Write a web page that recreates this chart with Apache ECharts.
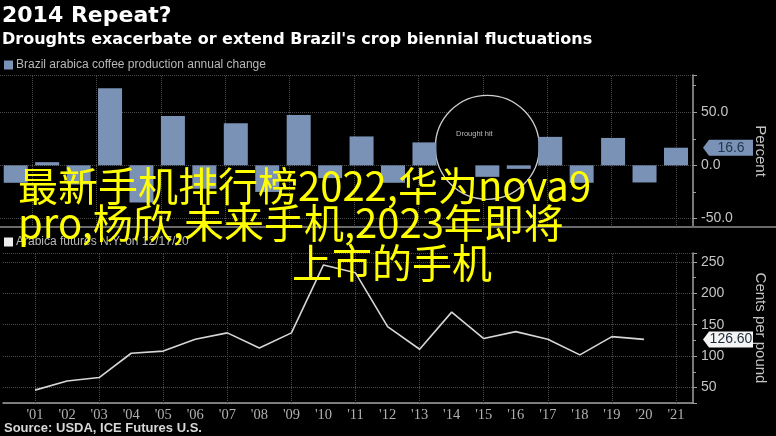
<!DOCTYPE html>
<html><head><meta charset="utf-8">
<script src="https://cdn.jsdelivr.net/npm/echarts@6/dist/echarts.min.js"></script>
<style>html,body{margin:0;padding:0;background:#000}#c{width:776px;height:436px}</style>
</head><body><div id="c"></div>
<script>
// ---- data ----
const barYears = ['2000','2001','2002','2003','2004','2005','2006','2007','2008','2009','2010',
  '2011','2012','2013','2014','2015','2016','2017','2018','2019','2020','2021'];
const barChanges = [-16.4, 3, -18, 72.5, -35, 46.5, -22, 39.7, -25, 47.4, -12,
  27.2, -16.4, 21.6, 0, -10.8, -3.3, 26.8, -16.4, 25.8, -16.1, 16.6];
const priceYears = [2001,2002,2003,2004,2005,2006,2007,2008,2009,2010,
  2011,2012,2013,2014,2015,2016,2017,2018,2019,2020];
const prices = [46, 60.6, 66, 104.6, 108, 127, 137, 113, 137, 245,
  232.5, 147, 111, 170, 128, 139, 127, 102, 131, 126.6];
const gridYears = [2001,2003,2005,2007,2009,2011,2013,2015,2017,2019,2021];
const xMin = 2000, xMax = 2021.53;
const pctMin = -58, pctMax = 85;
const centsMin = 25.5, centsMax = 264;
const droughtYear = '2015', droughtLevel = 17;

const chart = echarts.init(document.getElementById('c'));
const gridColor = '#4c4c4c';
const axisGrey = '#a0a0a0';
const labelGrey = '#c4c4c4';
const barColor = '#7a92b6';
const vLines = gridYears.map(y => ({xAxis: y}));
const vMark = {silent: true, symbol: ['none','none'], z: 1, label: {show: false},
  lineStyle: {color: gridColor, type: 'dotted', width: 1}, data: vLines, animation: false};
const lbl = {color: labelGrey, fontSize: 14, fontFamily: 'Liberation Sans', margin: 8};
const tagPath = 'path://M0,8 L6,0 L50,0 L50,16 L6,16 Z';

const option = {
  backgroundColor: '#000',
  animation: false,
  title: [
    {text: '2014 Repeat?', left: 2, top: 5, padding: 0,
      textStyle: {color: '#fff', fontSize: 22, fontWeight: 'bold', fontFamily: 'DejaVu Sans'}},
    {text: "Droughts exacerbate or extend Brazil's crop biennial fluctuations", left: 2, top: 32, padding: 0,
      textStyle: {color: '#fff', fontSize: 16, fontWeight: 'bold', fontFamily: 'DejaVu Sans'}}
  ],
  legend: [
    {data: ['Brazil arabica coffee production annual change'], left: 4, top: 59, padding: 0,
      icon: 'rect', itemWidth: 9, itemHeight: 9, itemGap: 4,
      textStyle: {color: '#b8b8b8', fontSize: 12, fontFamily: 'Liberation Sans', padding: [0,0,0,-2]}},
    {data: ['Arabica futures N.Y. on 12/17/20'], left: 4, top: 236, padding: 0,
      icon: 'rect', itemWidth: 9, itemHeight: 9, itemGap: 4,
      textStyle: {color: '#b8b8b8', fontSize: 12, fontFamily: 'Liberation Sans', padding: [0,0,0,-2]}}
  ],
  grid: [
    {left: 0, right: 73, top: 75, height: 152},
    {left: -3.3, right: 84.3, top: 75, height: 152},
    {left: 0, right: 73, top: 253, height: 150}
  ],
  xAxis: [
    {gridIndex: 0, type: 'value', min: xMin, max: xMax, show: false},
    {gridIndex: 1, type: 'category', data: barYears, show: false},
    {gridIndex: 2, type: 'value', min: xMin, max: xMax, interval: 1,
      axisLine: {lineStyle: {color: axisGrey, width: 1.5}},
      axisTick: {show: false}, splitLine: {show: false},
      axisLabel: {color: '#b0b0b0', fontSize: 14.5, fontFamily: 'Liberation Sans Narrow', margin: 5,
        formatter: v => (Number.isInteger(v) && v > xMin) ? "'" + String(v).slice(2) : ''}}
  ],
  yAxis: [
    {gridIndex: 0, type: 'value', position: 'right', min: pctMin, max: pctMax, splitNumber: 3,
      name: 'Percent', nameLocation: 'middle', nameRotate: -90, nameGap: 60,
      nameTextStyle: {color: labelGrey, fontSize: 15, fontFamily: 'Liberation Sans'},
      axisLine: {show: true, lineStyle: {color: axisGrey, width: 1.5}},
      axisTick: {show: true, length: 4, lineStyle: {color: axisGrey}},
      minorTick: {show: true, splitNumber: 2, length: 3, lineStyle: {color: axisGrey}},
      splitLine: {show: true, lineStyle: {color: gridColor, type: 'dotted'}},
      axisLabel: Object.assign({}, lbl, {formatter: v => (v % 50 === 0) ? v.toFixed(1) : ''})},
    {gridIndex: 1, type: 'value', min: pctMin, max: pctMax, show: false, splitLine: {show: false}},
    {gridIndex: 2, type: 'value', position: 'right', min: centsMin, max: centsMax, splitNumber: 5,
      name: 'Cents per pound', nameLocation: 'middle', nameRotate: -90, nameGap: 60,
      nameTextStyle: {color: labelGrey, fontSize: 15, fontFamily: 'Liberation Sans'},
      axisLine: {show: true, lineStyle: {color: axisGrey, width: 1.5}},
      axisTick: {show: true, length: 4, lineStyle: {color: axisGrey}},
      minorTick: {show: true, splitNumber: 2, length: 3, lineStyle: {color: axisGrey}},
      splitLine: {show: true, lineStyle: {color: gridColor, type: 'dotted'}},
      axisLabel: Object.assign({}, lbl, {formatter: v => (v % 50 === 0) ? String(v) : ''})}
  ],
  series: [
    {name: 'Brazil arabica coffee production annual change', type: 'bar',
      xAxisIndex: 1, yAxisIndex: 1, data: barChanges, barWidth: 24, z: 3,
      itemStyle: {color: barColor},
      markPoint: {silent: true, z: 2, animation: false,
        data: [{coord: [droughtYear, droughtLevel], symbol: 'circle', symbolSize: 104,
          itemStyle: {color: '#000', borderColor: '#cfcfcf', borderWidth: 1.3},
          label: {show: true, formatter: 'Drought hit', position: 'inside', offset: [-13, -13],
            color: '#bdbdbd', fontSize: 7.5, fontFamily: 'Liberation Sans'}}]}},
    {name: 'helperTop', type: 'line', xAxisIndex: 0, yAxisIndex: 0, data: [], clip: false,
      markLine: vMark,
      markPoint: {silent: true, z: 6, animation: false,
        data: [{coord: [xMax, barChanges[barChanges.length - 1]], symbol: tagPath,
          symbolSize: [50, 16], symbolKeepAspect: false, symbolOffset: [35, 0],
          itemStyle: {color: barColor},
          label: {show: true, position: 'inside', offset: [3, 0], formatter: String(barChanges[barChanges.length - 1]),
            color: '#22364f', fontSize: 14, fontFamily: 'Liberation Sans'}}]}},
    {name: 'Arabica futures N.Y. on 12/17/20', type: 'line', xAxisIndex: 2, yAxisIndex: 2,
      data: priceYears.map((y, i) => [y, prices[i]]), showSymbol: false, clip: false,
      lineStyle: {color: '#d6d6d6', width: 1.6}, itemStyle: {color: '#eeeeee'},
      markLine: vMark,
      markPoint: {silent: true, z: 6, animation: false,
        data: [{coord: [xMax, prices[prices.length - 1]], symbol: tagPath,
          symbolSize: [50, 16], symbolKeepAspect: false, symbolOffset: [35, 0],
          itemStyle: {color: '#f4f4f4'},
          label: {show: true, position: 'inside', offset: [3, 0], formatter: prices[prices.length - 1].toFixed(2),
            color: '#1e2a38', fontSize: 14, fontFamily: 'Liberation Sans'}}]}}
  ],
  graphic: [
    {type: 'rect', shape: {x: 0, y: 226, width: 776, height: 2}, style: {fill: '#6a6a6a'}, z: 4, silent: true},
    {type: 'text', x: 4, y: 428, style: {text: 'Source: USDA, ICE Futures U.S.', fill: '#d8d8d8',
      font: 'bold 13px "Liberation Sans"', textVerticalAlign: 'middle'}},
    {type: 'text', x: 18, y: 186, z: 100, style: {text: '最新手机排行榜2022,华为nova9', fill: '#ffff00',
      font: '40px "Noto Sans CJK SC"', textVerticalAlign: 'middle'}},
    {type: 'text', x: 18, y: 223, z: 100, style: {text: 'pro,杨欣,未来手机,2023年即将', fill: '#ffff00',
      font: '40px "Noto Sans CJK SC"', textVerticalAlign: 'middle'}},
    {type: 'text', x: 292, y: 263, z: 100, style: {text: '上市的手机', fill: '#ffff00',
      font: '40px "Noto Sans CJK SC"', textVerticalAlign: 'middle'}}
  ]
};
chart.setOption(option);
</script></body></html>
